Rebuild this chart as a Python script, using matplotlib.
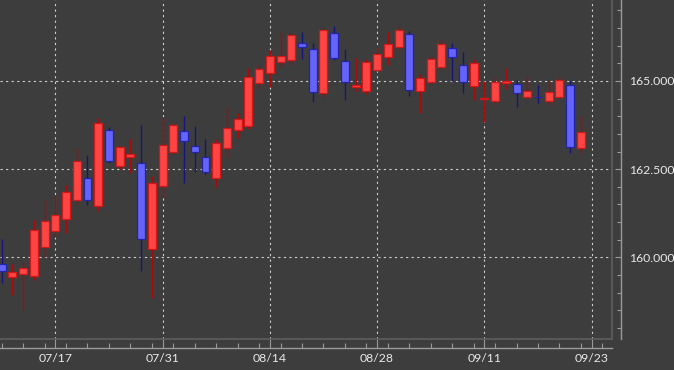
import matplotlib
matplotlib.use("Agg")
import matplotlib.pyplot as plt
import numpy as np
from matplotlib.ticker import FixedLocator, MultipleLocator, FormatStrFormatter

# daily OHLC, one row per trading bar
OPEN = [159.80, 159.43, 159.53, 159.48, 160.28, 160.75, 161.09, 161.62, 162.24, 161.46,
        163.60, 162.58, 162.84, 162.67, 160.24, 162.03, 162.98, 163.59, 163.17, 162.84,
        162.24, 163.11, 163.60, 163.72, 164.95, 165.24, 165.53, 165.60, 166.07, 165.91,
        164.67, 166.35, 165.57, 164.83, 164.72, 165.30, 165.69, 165.96, 166.32, 164.72,
        164.98, 165.40, 165.94, 165.45, 164.87, 164.50, 164.43, 164.94, 164.91, 164.54,
        164.56, 164.44, 164.55, 164.89, 163.09]
HIGH = [160.51, 159.80, 159.86, 161.06, 161.63, 161.75, 162.05, 163.09, 162.90, 163.94,
        163.70, 163.16, 163.35, 163.75, 162.31, 163.97, 163.82, 164.01, 163.72, 163.35,
        163.35, 164.24, 164.08, 165.36, 165.45, 165.88, 166.40, 166.35, 166.40, 166.07,
        166.51, 166.56, 165.90, 165.64, 165.62, 165.97, 166.40, 166.56, 166.42, 165.20,
        165.74, 166.18, 166.09, 165.81, 165.62, 165.00, 165.10, 165.38, 165.03, 165.14,
        164.89, 165.00, 165.14, 165.00, 164.01]
LOW = [159.26, 158.93, 158.51, 159.36, 160.00, 160.58, 160.70, 161.48, 161.48, 161.31,
       162.67, 162.50, 162.40, 159.61, 158.84, 161.72, 162.90, 162.10, 162.43, 162.36,
       161.99, 162.85, 163.37, 163.63, 164.77, 164.82, 165.41, 165.45, 165.63, 164.41,
       164.51, 165.60, 164.46, 164.72, 164.63, 165.29, 165.45, 165.85, 164.58, 164.08,
       164.89, 165.31, 165.00, 164.67, 164.46, 163.85, 164.32, 164.76, 164.25, 164.48,
       164.38, 164.32, 164.51, 162.97, 162.93]
CLOSE = [159.61, 159.59, 159.70, 160.77, 161.04, 161.20, 161.86, 162.74, 161.62, 163.80,
         162.72, 163.12, 162.92, 160.52, 162.12, 163.18, 163.75, 163.31, 162.98, 162.43,
         163.23, 163.68, 163.91, 165.10, 165.34, 165.71, 165.71, 166.30, 165.97, 164.70,
         166.45, 165.64, 164.97, 164.88, 165.55, 165.77, 166.05, 166.45, 164.74, 165.09,
         165.62, 166.04, 165.67, 164.97, 165.50, 164.52, 164.98, 164.99, 164.65, 164.72,
         164.54, 164.68, 165.03, 163.12, 163.55]

# date labels every 10 bars (bar index -> label)
DATE_BARS = [5, 15, 25, 35, 45, 55]
DATE_LABELS = ["07/17", "07/31", "08/14", "08/28", "09/11", "09/23"]

BG = "#3d3d3d"
UP_FILL, UP_EDGE, UP_WICK = "#ff4444", "#d01818", "#a80a0a"
DN_FILL, DN_EDGE, DN_WICK = "#6464fa", "#2424a6", "#16167a"

plt.rcParams["font.family"] = ["Lato", "DejaVu Sans"]

o = np.array(OPEN)
h = np.array(HIGH)
l = np.array(LOW)
c = np.array(CLOSE)
x = np.arange(len(o))
up = c >= o

fig = plt.figure(figsize=(6.74, 3.70), dpi=100, facecolor=BG)
ax = fig.add_axes([0, 31 / 370, 612 / 674, 339 / 370], facecolor=BG)

ax.vlines(x[up], l[up], h[up], colors=UP_WICK, lw=1.0, zorder=2)
ax.vlines(x[~up], l[~up], h[~up], colors=DN_WICK, lw=1.0, zorder=2)
body_lo = np.minimum(o, c)
body_h = np.maximum(np.abs(c - o), 0.015)
ax.bar(x[up], body_h[up], bottom=body_lo[up], width=0.74, color=UP_FILL,
       edgecolor=UP_EDGE, linewidth=0.9, zorder=3)
ax.bar(x[~up], body_h[~up], bottom=body_lo[~up], width=0.74, color=DN_FILL,
       edgecolor=DN_EDGE, linewidth=0.9, zorder=3)

ax.set_xlim(-0.156, 56.9)
ax.set_ylim(157.683, 167.297)

# frame: border lines plus offset axis lines
for s in ("top", "left"):
    ax.spines[s].set_visible(False)
ax.plot([0, 1], [0, 0], transform=ax.transAxes, color="#5e5e5e", lw=1.2, clip_on=False, zorder=1)
ax.plot([1, 1], [0, 1], transform=ax.transAxes, color="#5e5e5e", lw=1.2, clip_on=False, zorder=1)
ax.spines["bottom"].set_position(("outward", 6.5))
ax.spines["right"].set_position(("outward", 6.5))
for s in ("bottom", "right"):
    ax.spines[s].set_color("#9a9a9a")
    ax.spines[s].set_linewidth(1.0)

ax.xaxis.set_major_locator(FixedLocator(DATE_BARS))
ax.set_xticklabels(DATE_LABELS)
ax.xaxis.set_minor_locator(MultipleLocator(2))
ax.yaxis.tick_right()
ax.yaxis.set_major_locator(MultipleLocator(2.5))
ax.yaxis.set_minor_locator(MultipleLocator(0.5))
ax.yaxis.set_major_formatter(FormatStrFormatter("%.3f"))

ax.tick_params(axis="x", which="major", direction="in", length=6.5, width=0.8,
               color="#9a9a9a", labelcolor="#e8e8e8", labelsize=8.8, pad=3.6)
ax.tick_params(axis="x", which="minor", direction="in", length=3.6, width=0.8, color="#9a9a9a")
ax.tick_params(axis="y", which="major", direction="in", length=4, width=0.8,
               color="#9a9a9a", labelcolor="#e8e8e8", labelsize=8.8, pad=5.8)
ax.tick_params(axis="y", which="minor", direction="in", length=3, width=0.8, color="#9a9a9a")

ax.grid(which="major", color="#cfcfcf", linestyle=(0, (2, 3)), lw=0.8, zorder=0)
ax.set_axisbelow(True)

fig.savefig("out.png", dpi=100, facecolor=BG)
